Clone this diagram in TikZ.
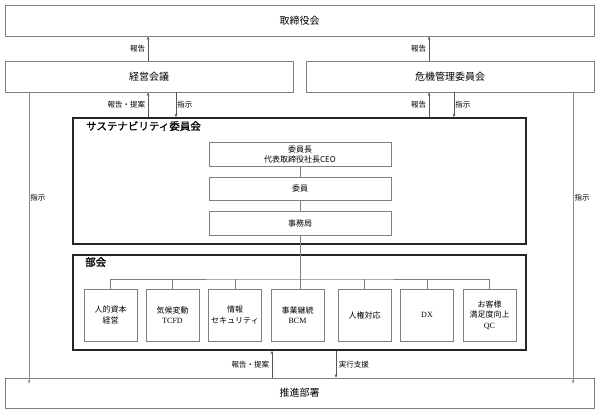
\documentclass[tikz,border=0pt]{standalone}
\usepackage{fontspec}
\setmainfont{Noto Sans CJK JP}
\newfontfamily\jpb[FakeBold=1.2]{Noto Sans CJK JP}
\newfontfamily\lat{Liberation Serif}
\usetikzlibrary{arrows.meta}
\definecolor{boxgray}{HTML}{7F7F7F}
\definecolor{linegray}{HTML}{8C8C8C}
\definecolor{arrgray}{HTML}{555555}
\begin{document}
\begin{tikzpicture}[x=1pt,y=-1pt,
  box/.style={draw=boxgray,line width=0.8pt,fill=white,inner sep=0pt,align=center,font=\fontsize{10}{12}\selectfont},
  frame/.style={draw=black!85,line width=1.6pt,inner sep=0pt},
  unit/.style={draw=boxgray,line width=0.8pt,inner sep=0pt,align=center,minimum width=53pt,minimum height=52pt,font=\fontsize{8}{10.5}\selectfont},
  inbox/.style={draw=boxgray,line width=0.8pt,inner sep=0pt,align=center,minimum width=182pt,font=\fontsize{8}{10}\selectfont},
  arr/.style={draw=arrgray,line width=0.6pt,-{Stealth[length=3.5pt,width=2.8pt]}},
  conn/.style={draw=boxgray,line width=0.8pt},
  longarr/.style={draw=linegray,line width=1pt,-{Stealth[length=3.5pt,width=2.8pt]}},
  lbl/.style={font=\fontsize{7.5}{9}\selectfont,inner sep=2.5pt},
  ttl/.style={font=\jpb\fontsize{10.5}{12}\selectfont,anchor=north west,inner sep=0pt}
]
\useasboundingbox (0,0) rectangle (600,414);
% main boxes
\node[box,minimum width=589pt,minimum height=31pt] (board) at (299.5,20.5) {取締役会};
\node[box,minimum width=288pt,minimum height=31pt] (keiei) at (149,76.5) {経営会議};
\node[box,minimum width=288pt,minimum height=31pt] (kiki) at (450,76.5) {危機管理委員会};
\node[box,minimum width=589pt,minimum height=30pt] (suishin) at (299.5,393) {推進部署};
% sustainability committee
\node[frame,minimum width=453pt,minimum height=126pt] (sus) at (299.5,181) {};
\node[ttl] (sustitle) at (86,121) {サステナビリティ委員会};
\node[inbox,minimum height=24pt] (chair) at (300,154) {委員長\\代表取締役社長CEO};
\node[inbox,minimum height=23pt] (member) at (300,188.5) {委員};
\node[inbox,minimum height=24pt] (office) at (300,223) {事務局};
\draw[conn] (chair.south) -- (member.north);
\draw[conn] (member.south) -- (office.north);
% bukai
\node[frame,minimum width=453pt,minimum height=95pt] (bukai) at (299.5,302.5) {};
\node[ttl] (bukaititle) at (85,257) {部会};
\node[unit] (u1) at (110.5,315) {人的資本\\経営};
\node[unit] (u2) at (172.5,315) {気候変動\\{\lat TCFD}};
\node[unit] (u3) at (235,315) {情報\\セキュリティ};
\node[unit] (u4) at (297.5,315) {事業継続\\{\lat BCM}};
\node[unit] (u5) at (364.5,315) {人権対応};
\node[unit] (u6) at (427,315) {{\lat DX}};
\node[unit] (u7) at (489.5,315) {お客様\\満足度向上\\{\lat QC}};
\coordinate (bus) at (300,279);
\draw[conn] (u1.north) |- (bus) -| (u7.north);
\draw[conn] (u2.north) -- (u2.north |- bus);
\draw[conn] (u3.north) -- (u3.north |- bus);
\draw[conn] (u5.north) -- (u5.north |- bus);
\draw[conn] (u6.north) -- (u6.north |- bus);
\draw[conn] (office.south) -- (office.south |- u4.north);
% arrow x positions
\coordinate (xa) at (148,0);
\coordinate (xb) at (176,0);
\coordinate (xc) at (429,0);
\coordinate (xd) at (454,0);
\coordinate (xe) at (29,0);
\coordinate (xf) at (573,0);
\coordinate (xg) at (272,0);
\coordinate (xh) at (336,0);
% arrows to board
\draw[arr] (keiei.north -| xa) -- node[lbl,left] {報告} (board.south -| xa);
\draw[arr] (kiki.north -| xc) -- node[lbl,left] {報告} (board.south -| xc);
% committee <-> keiei / kiki
\draw[arr] (sus.north -| xa) -- node[lbl,left] {報告・提案} (keiei.south -| xa);
\draw[arr] (keiei.south -| xb) -- node[lbl,right,inner sep=1pt] {指示} (sus.north -| xb);
\draw[arr] (sus.north -| xc) -- node[lbl,left] {報告} (kiki.south -| xc);
\draw[arr] (kiki.south -| xd) -- node[lbl,right,inner sep=1pt] {指示} (sus.north -| xd);
% long lines
\draw[longarr] (keiei.south -| xe) -- node[lbl,pos=0.36,right,inner sep=1pt] {指示} ([yshift=-6pt]suishin.north -| xe);
\draw[longarr] (kiki.south -| xf) -- node[lbl,pos=0.36,right,inner sep=1pt] {指示} ([yshift=-6pt]suishin.north -| xf);
% bottom
\draw[arr] (suishin.north -| xg) -- node[lbl,left] {報告・提案} (bukai.south -| xg);
\draw[arr] (bukai.south -| xh) -- node[lbl,right] {実行支援} (suishin.north -| xh);
\end{tikzpicture}
\end{document}
